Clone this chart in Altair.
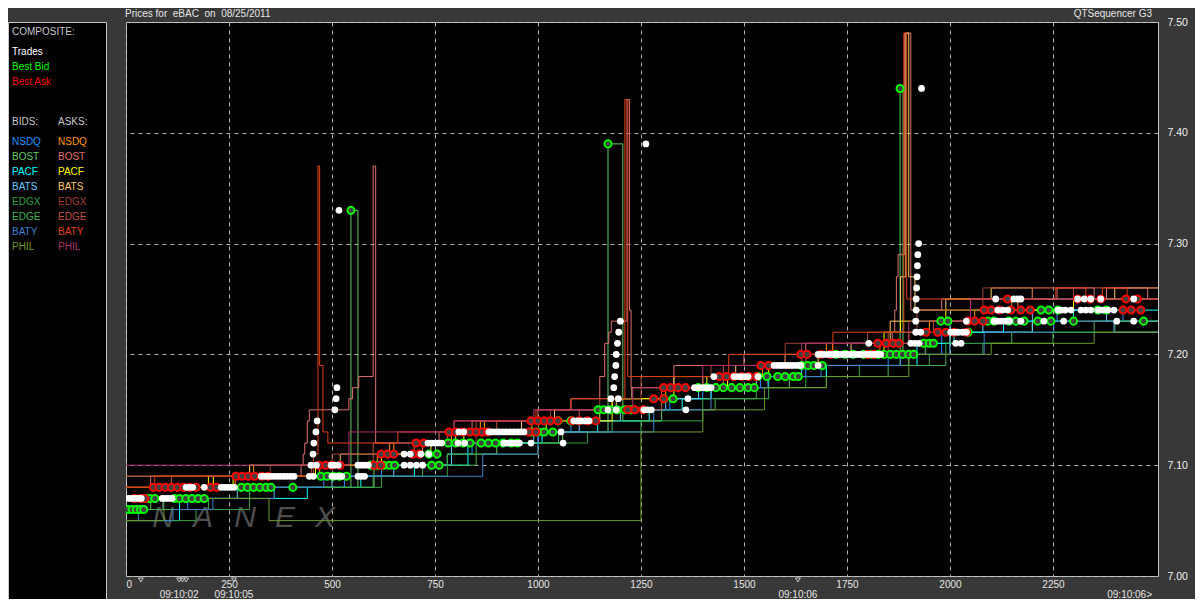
import altair as alt
import pandas as pd

FONT = "Liberation Sans"
X_MAX = 2505

X_TICKS = [0, 250, 500, 750, 1000, 1250, 1500, 1750, 2000, 2250]
Y_TICKS = [7.00, 7.10, 7.20, 7.30, 7.40, 7.50]

TIME_X = [129, 262, 1631]
TIME_LABELS = ["09:10:02", "09:10:05", "09:10:06"]
TRIANGLE_X = [36, 129, 137, 146, 262, 1631]

EXCHANGES = ["NSDQ", "BOST", "PACF", "BATS", "EDGX", "EDGE", "BATY", "PHIL"]
BID_COLORS = ["#1e90ff", "#66cc66", "#00ffff", "#66ccff", "#33a040", "#40b050", "#4080d0", "#6b9a2a"]
ASK_COLORS = ["#ff9900", "#e07070", "#ffff00", "#ffcc66", "#a04030", "#c05040", "#e04010", "#b03070"]

# ---------------- exchange quotes (x, price), step-after ----------------
NSDQ_BID = [(0, 7.06), (150, 7.07), (300, 7.08), (530, 7.09), (620, 7.10), (780, 7.11), (840, 7.12), (1000, 7.13),
            (1080, 7.14), (1150, 7.15), (1320, 7.16), (1400, 7.17), (1540, 7.18), (1650, 7.19), (1850, 7.20),
            (1980, 7.22), (2130, 7.23), (2260, 7.24), (2420, 7.23), (2505, 7.23)]
BOST_BID = [(0, 7.06), (60, 7.07), (300, 7.08), (546, 7.33), (563, 7.08), (602, 7.10), (780, 7.11), (900, 7.12),
            (1060, 7.13), (1170, 7.39), (1206, 7.14), (1300, 7.16), (1420, 7.17), (1610, 7.18), (1700, 7.19),
            (1879, 7.44), (1886, 7.20), (1940, 7.21), (2000, 7.22), (2200, 7.23), (2400, 7.22), (2505, 7.22)]
PACF_BID = [(0, 7.05), (130, 7.07), (440, 7.08), (570, 7.09), (700, 7.10), (830, 7.12), (1010, 7.13), (1145, 7.14),
            (1270, 7.15), (1350, 7.16), (1420, 7.17), (1560, 7.18), (1700, 7.19), (1920, 7.21), (2010, 7.22),
            (2130, 7.23), (2300, 7.24), (2505, 7.24)]
BATS_BID = [(0, 7.06), (90, 7.07), (270, 7.08), (500, 7.09), (650, 7.10), (790, 7.12), (990, 7.13), (1100, 7.14),
            (1200, 7.15), (1310, 7.16), (1390, 7.17), (1530, 7.18), (1640, 7.19), (1900, 7.20), (2000, 7.23),
            (2080, 7.22), (2200, 7.24), (2380, 7.23), (2505, 7.23)]
EDGX_BID = [(0, 7.05), (170, 7.06), (300, 7.08), (620, 7.09), (780, 7.11), (1000, 7.12), (1120, 7.13), (1250, 7.14),
            (1400, 7.16), (1530, 7.17), (1650, 7.18), (1780, 7.19), (1950, 7.20), (2080, 7.21), (2250, 7.22),
            (2505, 7.22)]
EDGE_BID = [(0, 7.06), (200, 7.07), (360, 7.08), (600, 7.09), (720, 7.10), (850, 7.12), (1050, 7.13), (1180, 7.14),
            (1300, 7.15), (1430, 7.16), (1560, 7.17), (1700, 7.18), (1850, 7.19), (1990, 7.21), (2150, 7.22),
            (2350, 7.23), (2505, 7.23)]
BATY_BID = [(0, 7.06), (30, 7.05), (114, 7.06), (211, 7.07), (360, 7.08), (480, 7.09), (866, 7.11), (1000, 7.13),
            (1281, 7.15), (1420, 7.17), (1558, 7.18), (1687, 7.19), (1880, 7.20), (2083, 7.22), (2252, 7.23),
            (2398, 7.22), (2505, 7.22)]
PHIL_BID = [(0, 7.05), (92, 7.07), (347, 7.05), (1250, 7.13), (1400, 7.15), (1550, 7.17), (1700, 7.18),
            (1900, 7.20), (2100, 7.21), (2350, 7.22), (2505, 7.22)]

NSDQ_ASK = [(0, 7.08), (265, 7.09), (300, 7.10), (310, 7.09), (470, 7.10), (610, 7.11), (640, 7.12), (650, 7.11),
            (720, 7.12), (790, 7.13), (860, 7.14), (870, 7.13), (985, 7.14), (1150, 7.15), (1180, 7.16),
            (1310, 7.17), (1450, 7.18), (1545, 7.19), (1640, 7.20), (1700, 7.21), (1715, 7.20), (1830, 7.21),
            (1900, 7.22), (1950, 7.23), (2060, 7.24), (2150, 7.25), (2165, 7.24), (2300, 7.25), (2505, 7.25)]
BOST_ASK = [(0, 7.08), (60, 7.09), (425, 7.10), (430, 7.11), (434, 7.12), (440, 7.14), (445, 7.15), (541, 7.16),
            (550, 7.17), (565, 7.18), (600, 7.37), (606, 7.12), (760, 7.13), (840, 7.14), (1000, 7.15),
            (1080, 7.16), (1150, 7.18), (1162, 7.21), (1172, 7.22), (1178, 7.23), (1216, 7.43), (1222, 7.24),
            (1226, 7.17), (1330, 7.19), (1500, 7.20), (1650, 7.21), (1860, 7.22), (1866, 7.24), (1870, 7.27),
            (1874, 7.29), (1890, 7.49), (1905, 7.24), (1980, 7.25), (2260, 7.26), (2350, 7.25), (2380, 7.26),
            (2480, 7.25), (2505, 7.25)]
PACF_ASK = [(0, 7.08), (200, 7.09), (212, 7.08), (260, 7.09), (460, 7.10), (620, 7.11), (740, 7.12), (820, 7.13),
            (1020, 7.14), (1180, 7.16), (1330, 7.17), (1400, 7.18), (1410, 7.17), (1460, 7.18), (1560, 7.19),
            (1680, 7.20), (1840, 7.22), (1880, 7.23), (1990, 7.24), (2300, 7.25), (2505, 7.25)]
BATS_ASK = [(0, 7.09), (300, 7.10), (520, 7.11), (700, 7.12), (800, 7.13), (960, 7.14), (1040, 7.15), (1190, 7.16),
            (1228, 7.17), (1330, 7.18), (1480, 7.19), (1600, 7.20), (1760, 7.21), (1855, 7.23), (1880, 7.27),
            (1893, 7.49), (1900, 7.27), (1915, 7.24), (1990, 7.25), (2100, 7.26), (2200, 7.25), (2400, 7.26),
            (2505, 7.26)]
EDGX_ASK = [(0, 7.09), (350, 7.10), (500, 7.11), (700, 7.12), (850, 7.14), (1030, 7.15), (1150, 7.16), (1250, 7.18),
            (1420, 7.19), (1600, 7.21), (1800, 7.22), (1920, 7.24), (2080, 7.26), (2300, 7.25), (2505, 7.25)]
EDGE_ASK = [(0, 7.08), (110, 7.09), (450, 7.10), (600, 7.12), (780, 7.13), (900, 7.14), (1100, 7.15), (1300, 7.17),
            (1450, 7.19), (1650, 7.20), (1850, 7.22), (1960, 7.23), (2050, 7.25), (2200, 7.26), (2505, 7.26)]
BATY_ASK = [(0, 7.08), (70, 7.09), (455, 7.11), (466, 7.37), (470, 7.19), (478, 7.13), (490, 7.12), (660, 7.13),
            (796, 7.14), (995, 7.15), (1080, 7.16), (1211, 7.43), (1218, 7.18), (1463, 7.20), (1716, 7.22),
            (1888, 7.49), (1895, 7.25), (2257, 7.26), (2330, 7.25), (2370, 7.26), (2430, 7.25), (2505, 7.25)]
PHIL_ASK = [(0, 7.10), (541, 7.13), (796, 7.14), (990, 7.15), (1230, 7.17), (1400, 7.19), (1640, 7.21),
            (1900, 7.23), (2050, 7.25), (2505, 7.25)]

BID_SERIES = [NSDQ_BID, BOST_BID, PACF_BID, BATS_BID, EDGX_BID, EDGE_BID, BATY_BID, PHIL_BID]
ASK_SERIES = [NSDQ_ASK, BOST_ASK, PACF_ASK, BATS_ASK, EDGX_ASK, EDGE_ASK, BATY_ASK, PHIL_ASK]

# ---------------- composite ----------------
TRADES = [
    (5, 7.07), (13, 7.07), (21, 7.07), (29, 7.07), (37, 7.07), (88, 7.07), (96, 7.07), (104, 7.07), (112, 7.07),
    (146, 7.08), (154, 7.08), (162, 7.08), (190, 7.08), (231, 7.08), (239, 7.08), (247, 7.08), (255, 7.08),
    (263, 7.08),
    (328, 7.09), (336, 7.09), (344, 7.09), (352, 7.09), (360, 7.09), (368, 7.09), (376, 7.09), (384, 7.09),
    (392, 7.09), (400, 7.09), (408, 7.09),
    (445, 7.09), (455, 7.09), (500, 7.09), (508, 7.09), (516, 7.09), (524, 7.09), (563, 7.09), (571, 7.09),
    (579, 7.09),
    (449, 7.10), (462, 7.10), (498, 7.10), (506, 7.10), (515, 7.10), (563, 7.10), (571, 7.10), (579, 7.10),
    (588, 7.10),
    (454, 7.11), (456, 7.12), (461, 7.13), (464, 7.14), (507, 7.15), (510, 7.16), (512, 7.17), (517, 7.33),
    (675, 7.10), (690, 7.10), (705, 7.10), (720, 7.10),
    (675, 7.11), (690, 7.11), (716, 7.11), (735, 7.11),
    (733, 7.12), (741, 7.12), (750, 7.12), (758, 7.12), (766, 7.12), (806, 7.12), (822, 7.12), (917, 7.12),
    (926, 7.12), (935, 7.12), (944, 7.12), (955, 7.12), (983, 7.12), (1061, 7.12),
    (808, 7.13), (820, 7.13), (881, 7.13), (889, 7.13), (898, 7.13), (906, 7.13), (915, 7.13), (923, 7.13),
    (932, 7.13), (941, 7.13), (950, 7.13), (958, 7.13), (966, 7.13), (1056, 7.13),
    (1087, 7.14), (1096, 7.14), (1105, 7.14), (1114, 7.14), (1124, 7.14),
    (1170, 7.15), (1190, 7.15), (1257, 7.15), (1266, 7.15), (1275, 7.15), (1359, 7.15),
    (1177, 7.16), (1195, 7.16), (1364, 7.16),
    (1184, 7.17), (1186, 7.18), (1189, 7.19), (1190, 7.20), (1193, 7.21), (1196, 7.22), (1200, 7.23),
    (1262, 7.39),
    (1380, 7.17), (1390, 7.17), (1400, 7.17), (1410, 7.17), (1420, 7.17),
    (1427, 7.18), (1476, 7.18), (1485, 7.18), (1493, 7.18), (1502, 7.18), (1510, 7.18), (1534, 7.18),
    (1573, 7.19), (1582, 7.19), (1590, 7.19), (1598, 7.19), (1605, 7.19), (1613, 7.19), (1620, 7.19),
    (1629, 7.19), (1638, 7.19), (1680, 7.19),
    (1680, 7.20), (1688, 7.20), (1695, 7.20), (1704, 7.20), (1712, 7.20), (1720, 7.20), (1728, 7.20),
    (1736, 7.20), (1745, 7.20), (1752, 7.20), (1760, 7.20), (1768, 7.20), (1775, 7.20), (1783, 7.20),
    (1790, 7.20), (1798, 7.20), (1805, 7.20), (1812, 7.20), (1820, 7.20), (1826, 7.20), (1832, 7.20),
    (1803, 7.21), (1905, 7.21), (1915, 7.21), (1925, 7.21), (2014, 7.21), (2027, 7.21),
    (1917, 7.22), (1917, 7.23), (1918, 7.24), (1918, 7.25), (1919, 7.26), (1920, 7.27), (1921, 7.28),
    (1922, 7.29), (1924, 7.30), (1931, 7.44),
    (1929, 7.22), (2002, 7.22), (2011, 7.22), (2020, 7.22), (2030, 7.22), (2040, 7.22),
    (2040, 7.23), (2107, 7.23), (2116, 7.23), (2125, 7.23), (2135, 7.23), (2145, 7.23), (2172, 7.23),
    (2228, 7.23), (2276, 7.23), (2405, 7.23), (2446, 7.23),
    (2116, 7.24), (2128, 7.24), (2140, 7.24), (2262, 7.24), (2271, 7.24), (2280, 7.24), (2294, 7.24),
    (2318, 7.24), (2330, 7.24), (2342, 7.24), (2359, 7.24), (2371, 7.24), (2383, 7.24), (2398, 7.24),
    (2111, 7.25), (2155, 7.25), (2164, 7.25), (2172, 7.25), (2310, 7.25), (2326, 7.25), (2342, 7.25),
    (2366, 7.25), (2446, 7.25),
]

BEST_BID = [
    (5, 7.06), (15, 7.06), (25, 7.06), (35, 7.06), (43, 7.06),
    (47, 7.07), (58, 7.07), (70, 7.07), (118, 7.07), (130, 7.07), (145, 7.07), (160, 7.07), (175, 7.07), (190, 7.07),
    (280, 7.08), (295, 7.08), (310, 7.08), (325, 7.08), (340, 7.08), (352, 7.08), (405, 7.08),
    (473, 7.09), (488, 7.09), (503, 7.09), (518, 7.09), (535, 7.09),
    (546, 7.33),
    (595, 7.10), (610, 7.10), (625, 7.10), (640, 7.10), (652, 7.10), (742, 7.10), (760, 7.10),
    (735, 7.11), (755, 7.11),
    (782, 7.12), (800, 7.12), (818, 7.12), (835, 7.12), (862, 7.12), (880, 7.12), (897, 7.12), (915, 7.12),
    (935, 7.12), (950, 7.12),
    (983, 7.13), (1000, 7.13), (1015, 7.13), (1036, 7.13),
    (1049, 7.14), (1080, 7.14),
    (1146, 7.15), (1160, 7.15), (1175, 7.15), (1192, 7.15), (1210, 7.15), (1225, 7.15),
    (1170, 7.39),
    (1306, 7.16), (1328, 7.16),
    (1389, 7.17), (1410, 7.17), (1432, 7.17), (1450, 7.17), (1470, 7.17), (1490, 7.17), (1510, 7.17), (1525, 7.17),
    (1534, 7.18), (1556, 7.18), (1582, 7.18), (1600, 7.18), (1620, 7.18), (1632, 7.18),
    (1640, 7.19), (1655, 7.19), (1670, 7.19), (1690, 7.19),
    (1723, 7.20), (1745, 7.20), (1765, 7.20), (1790, 7.20), (1810, 7.20), (1825, 7.20),
    (1840, 7.20), (1855, 7.20), (1870, 7.20), (1885, 7.20), (1900, 7.20), (1912, 7.20),
    (1879, 7.44),
    (1937, 7.21), (1950, 7.21), (1960, 7.21),
    (2044, 7.22),
    (1978, 7.23), (1995, 7.23), (2092, 7.23), (2107, 7.23), (2143, 7.23), (2160, 7.23), (2180, 7.23),
    (2213, 7.23), (2245, 7.23), (2300, 7.23), (2470, 7.23),
    (2221, 7.24), (2240, 7.24), (2262, 7.24), (2359, 7.24), (2380, 7.24),
]

BEST_ASK = [
    (20, 7.07), (35, 7.07), (45, 7.07),
    (66, 7.08), (80, 7.08), (95, 7.08), (110, 7.08), (125, 7.08), (140, 7.08), (155, 7.08), (170, 7.08),
    (205, 7.08), (220, 7.08),
    (267, 7.09), (282, 7.09), (297, 7.09), (312, 7.09), (330, 7.09), (345, 7.09),
    (468, 7.10), (485, 7.10), (500, 7.10), (520, 7.10), (602, 7.10), (618, 7.10),
    (619, 7.11), (635, 7.11), (650, 7.11), (697, 7.11), (712, 7.11),
    (704, 7.12), (722, 7.12),
    (784, 7.13), (800, 7.13), (818, 7.13), (835, 7.13), (850, 7.13), (865, 7.13), (878, 7.13), (978, 7.13),
    (995, 7.13),
    (983, 7.14), (1000, 7.14), (1015, 7.14), (1030, 7.14), (1048, 7.14), (1083, 7.14), (1100, 7.14),
    (1120, 7.14), (1140, 7.14),
    (1218, 7.15), (1235, 7.15), (1255, 7.15),
    (1281, 7.16), (1305, 7.16),
    (1305, 7.17), (1322, 7.17), (1340, 7.17), (1358, 7.17),
    (1440, 7.18), (1458, 7.18), (1476, 7.18), (1495, 7.18), (1512, 7.18), (1530, 7.18),
    (1541, 7.19), (1560, 7.19),
    (1638, 7.20), (1653, 7.20), (1687, 7.20), (1710, 7.20), (1800, 7.20), (1815, 7.20),
    (1825, 7.21), (1845, 7.21), (1862, 7.21), (1876, 7.21),
    (1942, 7.22), (1970, 7.22), (1990, 7.22), (2010, 7.22), (2040, 7.22),
    (2044, 7.23), (2060, 7.23), (2080, 7.23),
    (2083, 7.24), (2100, 7.24), (2120, 7.24), (2148, 7.24), (2172, 7.24), (2195, 7.24), (2420, 7.24),
    (2440, 7.24), (2463, 7.24),
    (2140, 7.25), (2310, 7.25), (2340, 7.25), (2366, 7.25), (2427, 7.25), (2455, 7.25),
]

# ---------------- build tables ----------------
line_rows = []
names, colors = [], []
for ex, pts, col in zip(EXCHANGES, BID_SERIES, BID_COLORS):
    nm = ex + " bid"
    names.append(nm)
    colors.append(col)
    for i, (x, p) in enumerate(pts):
        line_rows.append({"series": nm, "x": x, "price": p, "idx": i})
for ex, pts, col in zip(EXCHANGES, ASK_SERIES, ASK_COLORS):
    nm = ex + " ask"
    names.append(nm)
    colors.append(col)
    for i, (x, p) in enumerate(pts):
        line_rows.append({"series": nm, "x": x, "price": p, "idx": i})
lines_df = pd.DataFrame(line_rows)

trades_df = pd.DataFrame(TRADES, columns=["x", "price"])
bb_df = pd.DataFrame(BEST_BID, columns=["x", "price"])
ba_df = pd.DataFrame(BEST_ASK, columns=["x", "price"])
time_df = pd.DataFrame({"x": TIME_X, "label": TIME_LABELS})
tri_df = pd.DataFrame({"x": TRIANGLE_X})
dummy = pd.DataFrame({"a": [0]})

xscale = alt.Scale(domain=[0, X_MAX], nice=False, zero=False)
yscale = alt.Scale(domain=[7.0, 7.5], nice=False, zero=False)

xaxis = alt.Axis(values=X_TICKS, format="d", title=None, labelColor="#e6e6e6", labelFont=FONT,
                 labelFontSize=10, labelPadding=3, ticks=False, domain=False, grid=True, gridColor="#b4b4b4",
                 gridDash=[4, 4], gridWidth=1)
yaxis = alt.Axis(orient="right", values=Y_TICKS, format=".2f", title=None, labelColor="#f0f0f0",
                 labelFont=FONT, labelFontSize=10.5, labelPadding=9, ticks=False, domain=False, grid=True,
                 gridColor="#b4b4b4", gridDash=[4, 4], gridWidth=1)

layers = []

# watermark
for letter, lx in zip("NANEX", [37, 77, 119, 159, 199]):
    layers.append(alt.Chart(dummy).mark_text(font=FONT, fontSize=30, fontStyle="italic", color="#4e4e4e",
                                             align="center", baseline="middle").encode(
        x=alt.value(lx), y=alt.value(496), text=alt.value(letter)))

lines = alt.Chart(lines_df).mark_line(interpolate="step-after", strokeWidth=1, clip=True).encode(
    x=alt.X("x:Q", scale=xscale, axis=xaxis),
    y=alt.Y("price:Q", scale=yscale, axis=yaxis),
    color=alt.Color("series:N", scale=alt.Scale(domain=names, range=colors), legend=None),
    detail="series:N",
    order="idx:Q",
)
layers.append(lines)

layers.append(alt.Chart(bb_df).mark_circle(size=50, fill="#404040", stroke="#00ff00", strokeWidth=2,
                                           opacity=1, clip=True).encode(x="x:Q", y="price:Q"))
layers.append(alt.Chart(ba_df).mark_circle(size=50, fill="#404040", stroke="#ff0000", strokeWidth=2,
                                           opacity=1, clip=True).encode(x="x:Q", y="price:Q"))
layers.append(alt.Chart(trades_df).mark_circle(size=46, color="#ffffff", opacity=1, clip=True).encode(
    x="x:Q", y="price:Q"))

# time markers under the axis
layers.append(alt.Chart(tri_df).mark_point(shape="triangle-down", filled=False, color="#c8c8c8", size=22,
                                           strokeWidth=1, opacity=1).encode(x="x:Q", y=alt.value(558)))
layers.append(alt.Chart(time_df).mark_text(font=FONT, fontSize=10, color="#e6e6e6", align="center",
                                           baseline="alphabetic").encode(
    x="x:Q", y=alt.value(576), text="label:N"))
layers.append(alt.Chart(dummy).mark_text(font=FONT, fontSize=10, color="#e6e6e6", align="right",
                                         baseline="alphabetic").encode(
    x=alt.value(1026), y=alt.value(576), text=alt.value("09:10:06>")))

# header
layers.append(alt.Chart(dummy).mark_text(font=FONT, fontSize=10, color="#e6e6e6", align="left",
                                         baseline="top").encode(
    x=alt.value(-1), y=alt.value(-13), text=alt.value("Prices for\u00a0 eBAC\u00a0 on\u00a0 08/25/2011")))
layers.append(alt.Chart(dummy).mark_text(font=FONT, fontSize=10, color="#e6e6e6", align="right",
                                         baseline="top").encode(
    x=alt.value(1026), y=alt.value(-13), text=alt.value("QTSequencer G3")))

# legend panel
layers.append(alt.Chart(dummy).mark_rect(fill="#000000", stroke="#c8c8c8", strokeWidth=1).encode(
    x=alt.value(-117.5), x2=alt.value(-19.5), y=alt.value(0.5), y2=alt.value(580)))

COMPOSITE_LABELS = ["COMPOSITE:", "Trades", "Best Bid", "Best Ask"]
COMPOSITE_COLORS = ["#c8c8c8", "#ffffff", "#00ff00", "#ff0000"]
COMPOSITE_Y = [10, 30, 45, 60]
for lab, col, yy in zip(COMPOSITE_LABELS, COMPOSITE_COLORS, COMPOSITE_Y):
    layers.append(alt.Chart(dummy).mark_text(font=FONT, fontSize=10, color=col, align="left").encode(
        x=alt.value(-114), y=alt.value(yy), text=alt.value(lab)))
layers.append(alt.Chart(dummy).mark_text(font=FONT, fontSize=10, color="#c8c8c8", align="left").encode(
    x=alt.value(-114), y=alt.value(100), text=alt.value("BIDS:")))
layers.append(alt.Chart(dummy).mark_text(font=FONT, fontSize=10, color="#c8c8c8", align="left").encode(
    x=alt.value(-68), y=alt.value(100), text=alt.value("ASKS:")))
for i, ex in enumerate(EXCHANGES):
    yy = 120 + 15 * i
    layers.append(alt.Chart(dummy).mark_text(font=FONT, fontSize=10, color=BID_COLORS[i], align="left").encode(
        x=alt.value(-114), y=alt.value(yy), text=alt.value(ex)))
    layers.append(alt.Chart(dummy).mark_text(font=FONT, fontSize=10, color=ASK_COLORS[i], align="left").encode(
        x=alt.value(-68), y=alt.value(yy), text=alt.value(ex)))

chart = alt.layer(*layers).properties(
    width=1032,
    height=554,
    padding={"left": 118, "top": 14, "right": 37, "bottom": 23},
    autosize=alt.AutoSizeParams(type="none"),
    background="#383838",
).configure_view(fill="#000000", stroke="#c8c8c8", strokeWidth=1)

chart.save("out.html", embed_options={"renderer": "svg", "actions": False})
